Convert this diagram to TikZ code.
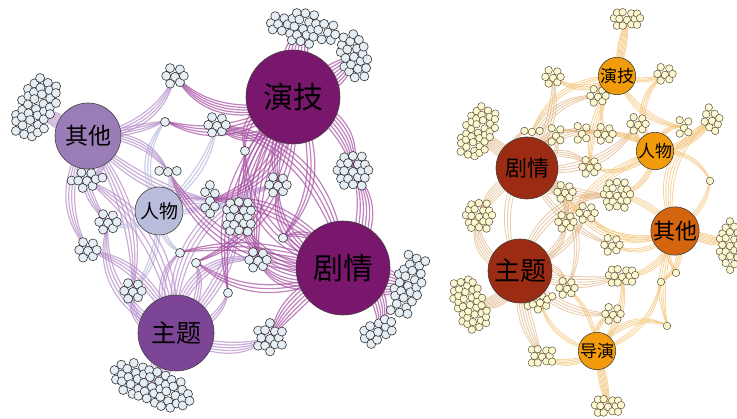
\documentclass[tikz,border=0pt]{standalone}
\usepackage{fontspec}
\newfontfamily\cjk{Noto Sans CJK SC}
\pgfdeclarelayer{edges}
\pgfsetlayers{edges,main}
\definecolor{lp1}{HTML}{79176D}
\definecolor{lp2}{HTML}{7D4595}
\definecolor{lp3}{HTML}{9A7CB7}
\definecolor{lp4}{HTML}{B9BCDA}
\definecolor{rr1}{HTML}{9C2B13}
\definecolor{rr2}{HTML}{D5640F}
\definecolor{rr3}{HTML}{F29B0B}
\definecolor{lsfill}{HTML}{E6EEF5}
\definecolor{rsfill}{HTML}{FBF8D2}
\definecolor{rsline}{HTML}{5E5236}
\definecolor{lmc}{HTML}{A54DA0}
\definecolor{lplc}{HTML}{B58CC8}
\definecolor{llavc}{HTML}{C3C6E3}
\definecolor{roc}{HTML}{F3C070}
\definecolor{rtc}{HTML}{D9A46A}
\tikzset{
 lsc/.style={circle,draw=black!80,fill=lsfill,line width=0.6pt,minimum size=9pt,inner sep=0pt},
 rsc/.style={circle,draw=rsline,fill=rsfill,line width=0.5pt,minimum size=7.5pt,inner sep=0pt},
 hub/.style={circle,draw=black!75,line width=0.6pt,inner sep=0pt},
 lm/.style={draw=lmc,line width=1.2pt,opacity=0.7},
 lpl/.style={draw=lplc,line width=1.2pt,opacity=0.7},
 llav/.style={draw=llavc,line width=1.2pt,opacity=0.85},
 ro/.style={draw=roc,line width=0.9pt,opacity=0.65},
 rt/.style={draw=rtc,line width=0.9pt,opacity=0.55},
}
% cluster: name, cx, cy, rx, ry, angle, style, spacing
\newcommand\clu[8]{%
 \coordinate (#1) at (#2,#3);
 \pgfmathtruncatemacro\nm{max(#4,#5)/#8+1}%
 \pgfmathtruncatemacro\nlo{-\nm}%
 \pgfmathtruncatemacro\nhi{\nm+2}%
 \pgfmathtruncatemacro\nlow{-\nm-2}%
 \foreach \i in {\nlow,...,\nhi}{\foreach \j in {\nlo,...,\nm}{%
   \pgfmathsetmacro\cu{(\i+0.5*(\j))*#8}%
   \pgfmathsetmacro\cv{0.866*(\j)*#8}%
   \pgfmathtruncatemacro\ok{((\cu/#4)^2+(\cv/#5)^2)<1.001 ? 1 : 0}%
   \ifnum\ok=1
     \pgfmathsetmacro\cX{#2+\cu*cos(#6)-\cv*sin(#6)+0.9*sin(137*\i+71*\j)}%
     \pgfmathsetmacro\cY{#3+\cu*sin(#6)+\cv*cos(#6)+0.9*cos(97*\i+151*\j)}%
     \node[#7] (#1-\i-\j) at (\cX,\cY) {};
   \fi
 }}%
}
% bundle: hub, cluster, style, base bend, n, step
\newcommand\bund[6]{%
 \foreach \k in {1,...,#5}{\pgfmathsetmacro\bb{#4+(\k-1)*#6}\draw[#3] (#1) to[bend left=\bb] (#2);}%
}
\begin{document}
\begin{tikzpicture}[x=1pt,y=-1pt]
\useasboundingbox (0,0) rectangle (737,419);
% ---------- left graph clusters
\clu{A1a}{303}{28}{34}{16}{10}{lsc}{8.2}
\clu{A1b}{354}{56}{13}{24}{-15}{lsc}{8.2}
\clu{A2}{36}{108}{18}{36}{25}{lsc}{8.2}
\clu{A3a}{408}{285}{15}{36}{18}{lsc}{8.2}
\clu{A3b}{378}{331}{17}{11}{-30}{lsc}{8.2}
\clu{A4}{152}{386}{42}{18}{22}{lsc}{8.2}
\clu{B1}{353}{171}{20}{16}{0}{lsc}{8.2}
\clu{B2}{270}{338}{14}{15}{0}{lsc}{8.2}
\clu{B3}{133}{291}{13}{11}{0}{lsc}{8.2}
\clu{B4}{87}{180}{17}{10}{-5}{lsc}{8.2}
\clu{B5}{239}{217}{16}{21}{0}{lsc}{8.2}
\clu{B6}{210}{200}{8}{19}{0}{lsc}{8.2}
\clu{C1}{175}{76}{9}{9}{0}{lsc}{8.2}
\clu{C2}{165}{121}{7}{8}{0}{lsc}{8.2}
\clu{C3}{217}{125}{9}{12}{0}{lsc}{8.2}
\clu{C4}{245}{150}{5}{5}{-30}{lsc}{8.2}
\clu{C5}{278}{185}{9}{9}{0}{lsc}{8.2}
\clu{C6}{168}{171}{10}{7}{0}{lsc}{8.2}
\clu{C7}{108}{222}{11}{11}{0}{lsc}{8.2}
\clu{C8}{88}{250}{10}{9}{0}{lsc}{8.2}
\clu{C9}{180}{252}{6}{3}{-30}{lsc}{8.2}
\clu{C10}{196}{262}{5}{5}{0}{lsc}{8.2}
\clu{C12}{258}{260}{9}{9}{0}{lsc}{8.2}
\clu{C13}{283}{237}{4}{8}{0}{lsc}{8.2}
\clu{C14}{228}{292}{5}{5}{0}{lsc}{8.2}
% ---------- right graph clusters
\clu{R1}{478}{132}{16}{28}{25}{rsc}{7}
\clu{R2}{470}{304}{16}{30}{-22}{rsc}{7}
\clu{R3}{479}{216}{15}{14}{0}{rsc}{7}
\clu{R4}{627}{19}{18}{7.5}{0}{rsc}{7}
\clu{R5}{730}{245}{11}{25}{0}{rsc}{7}
\clu{R6}{608}{406}{17}{8}{0}{rsc}{7}
\clu{R7}{542}{356}{13}{12}{0}{rsc}{7}
\clu{R8}{712}{120}{9}{15}{-15}{rsc}{7}
\clu{R9}{684}{127}{6}{10}{0}{rsc}{7}
\clu{R10}{665}{74}{8}{7}{0}{rsc}{7}
\clu{R11}{553}{77}{9}{8}{0}{rsc}{7}
\clu{R12}{598}{96}{11}{9}{0}{rsc}{7}
\clu{R13}{638}{124}{10}{7}{0}{rsc}{7}
\clu{R14}{605}{134}{11}{11}{0}{rsc}{7}
\clu{R15}{661}{281}{4}{5}{0}{rsc}{7}
\clu{R16}{667}{325}{5}{5}{0}{rsc}{7}
\clu{R17}{622}{276}{17}{11}{0}{rsc}{7}
\clu{R18}{613}{314}{12}{7}{0}{rsc}{7}
\clu{R21}{566}{222}{10}{10}{0}{rsc}{7}
\clu{R22}{617}{195}{14}{14}{0}{rsc}{7}
\clu{R23}{590}{167}{10}{10}{0}{rsc}{7}
\clu{R24}{565}{192}{8}{9}{0}{rsc}{7}
\clu{R26}{532}{131}{7}{4}{0}{rsc}{7}
\clu{R27}{556}{135}{6}{10}{0}{rsc}{7}
\clu{R28}{582}{133}{6}{10}{0}{rsc}{7}
\clu{R30}{587}{213}{7}{7}{0}{rsc}{7}
\clu{R31}{567}{288}{9}{9}{0}{rsc}{7}
\clu{R32}{540}{302}{16}{7}{-20}{rsc}{7}
\clu{R37}{710}{180}{4}{3}{60}{rsc}{7}
\clu{R38}{612}{245}{8}{7}{0}{rsc}{7}
\clu{R42}{676}{272}{3}{3}{0}{rsc}{7}
% ---------- hubs
\node[hub,fill=lp1,minimum size=94pt,font={\cjk\fontsize{30pt}{30pt}\selectfont}] (Lyj) at (293,97) {演技};
\node[hub,fill=lp1,minimum size=94pt,font={\cjk\fontsize{30pt}{30pt}\selectfont}] (Ljq) at (343,268) {剧情};
\node[hub,fill=lp2,minimum size=76pt,font={\cjk\fontsize{25pt}{25pt}\selectfont}] (Lzt) at (176,333) {主题};
\node[hub,fill=lp3,minimum size=66pt,font={\cjk\fontsize{23pt}{23pt}\selectfont}] (Lqt) at (88,136) {其他};
\node[hub,fill=lp4,minimum size=48pt,font={\cjk\fontsize{19pt}{19pt}\selectfont}] (Lrw) at (159,211) {人物};
\node[hub,fill=rr1,minimum size=62pt,font={\cjk\fontsize{22pt}{22pt}\selectfont}] (Rjq) at (527,168) {剧情};
\node[hub,fill=rr1,minimum size=64pt,font={\cjk\fontsize{26pt}{26pt}\selectfont}] (Rzt) at (520,271) {主题};
\node[hub,fill=rr2,minimum size=48pt,font={\cjk\fontsize{22pt}{22pt}\selectfont}] (Rqt) at (675,231) {其他};
\node[hub,fill=rr3,minimum size=34pt,font={\cjk\fontsize{17pt}{17pt}\selectfont}] (Rrw) at (655,151) {人物};
\node[hub,fill=rr3,minimum size=34pt,font={\cjk\fontsize{17pt}{17pt}\selectfont}] (Ryj) at (617,76) {演技};
\node[hub,fill=rr3,minimum size=34pt,font={\cjk\fontsize{17pt}{17pt}\selectfont}] (Rdy) at (597,351) {导演};
% ---------- edges
\begin{pgfonlayer}{edges}
\bund{Lyj}{A1a}{lm}{-10}{8}{4}
\bund{Lyj}{A1b}{lm}{-20}{8}{4}
\bund{Lqt}{A2}{lpl}{-10}{9}{3}
\bund{Ljq}{A3a}{lm}{-20}{9}{4}
\bund{Ljq}{A3b}{lm}{10}{6}{4}
\bund{Lzt}{A4}{lpl}{-15}{9}{4}
\bund{Lyj}{B1}{lm}{10}{6}{4}\bund{Ljq}{B1}{lm}{-30}{6}{4}
\bund{Lzt}{B2}{lpl}{-25}{5}{4}\bund{Ljq}{B2}{lm}{-20}{6}{4}
\bund{Lqt}{B3}{lpl}{10}{4}{4}\bund{Lzt}{B3}{lpl}{20}{4}{4}\bund{Lrw}{B3}{llav}{10}{3}{5}
\bund{Lqt}{B4}{lpl}{20}{4}{4}\bund{Lzt}{B4}{lpl}{-30}{4}{5}
\bund{Lyj}{B5}{lm}{-20}{5}{4}\bund{Ljq}{B5}{lm}{20}{5}{4}\bund{Lzt}{B5}{lpl}{-20}{4}{4}\bund{Lrw}{B5}{llav}{20}{3}{5}
\bund{Lyj}{B6}{lm}{20}{4}{4}\bund{Ljq}{B6}{lm}{-25}{4}{4}\bund{Lqt}{B6}{lpl}{-20}{4}{4}\bund{Lrw}{B6}{llav}{-20}{3}{5}
\bund{Lyj}{C1}{lm}{20}{5}{3}\bund{Lqt}{C1}{lpl}{-30}{4}{4}
\bund{Lyj}{C2}{lm}{15}{4}{4}\bund{Lqt}{C2}{lpl}{-10}{4}{4}\bund{Lrw}{C2}{llav}{20}{3}{5}
\bund{Lyj}{C3}{lm}{25}{4}{4}\bund{Ljq}{C3}{lm}{-35}{4}{4}\bund{Lrw}{C3}{llav}{-20}{3}{5}
\bund{Lyj}{C4}{lm}{-25}{3}{5}\bund{Ljq}{C4}{lm}{25}{3}{5}
\bund{Lyj}{C5}{lm}{-15}{4}{4}\bund{Ljq}{C5}{lm}{20}{4}{4}\bund{Lzt}{C5}{lpl}{30}{4}{4}
\bund{Lqt}{C6}{lpl}{15}{4}{4}\bund{Ljq}{C6}{lm}{20}{4}{4}\bund{Lrw}{C6}{llav}{-20}{3}{5}
\bund{Lqt}{C7}{lpl}{-25}{4}{4}\bund{Lzt}{C7}{lpl}{25}{4}{4}\bund{Lrw}{C7}{llav}{15}{3}{5}
\bund{Lqt}{C8}{lpl}{-30}{4}{4}\bund{Lzt}{C8}{lpl}{-25}{4}{4}
\bund{Lzt}{C9}{lpl}{20}{3}{4}\bund{Lrw}{C9}{llav}{-20}{3}{5}\bund{Ljq}{C9}{lm}{-15}{3}{4}
\bund{Lzt}{C10}{lpl}{-20}{3}{4}\bund{Ljq}{C10}{lm}{20}{3}{4}\bund{Lyj}{C10}{lm}{25}{3}{4}
\bund{Ljq}{C12}{lm}{20}{4}{4}\bund{Lzt}{C12}{lpl}{30}{4}{4}\bund{Lyj}{C12}{lm}{-20}{4}{4}
\bund{Ljq}{C13}{lm}{-20}{3}{4}\bund{Lyj}{C13}{lm}{20}{3}{4}
\bund{Lzt}{C14}{lpl}{-20}{3}{4}\bund{Lyj}{C14}{lm}{-25}{3}{4}
% right
\bund{Rjq}{R1}{rt}{-10}{9}{3}
\bund{Rzt}{R2}{rt}{10}{9}{3}
\bund{Rjq}{R3}{rt}{-20}{6}{4}\bund{Rzt}{R3}{rt}{20}{6}{4}
\bund{Ryj}{R4}{ro}{-10}{8}{3}
\bund{Rqt}{R5}{ro}{-10}{8}{3}
\bund{Rdy}{R6}{ro}{-10}{8}{3}
\bund{Rdy}{R7}{ro}{15}{5}{4}\bund{Rzt}{R7}{rt}{-20}{6}{4}
\bund{Rrw}{R8}{ro}{-25}{5}{4}\bund{Rqt}{R8}{ro}{25}{5}{4}
\bund{Rrw}{R9}{ro}{20}{4}{4}\bund{Ryj}{R9}{ro}{-30}{4}{4}
\bund{Ryj}{R10}{ro}{-20}{4}{4}\bund{Rrw}{R10}{ro}{30}{4}{4}
\bund{Rjq}{R11}{rt}{-20}{4}{4}\bund{Ryj}{R11}{ro}{20}{4}{4}
\bund{Ryj}{R12}{ro}{-20}{4}{4}\bund{Rjq}{R12}{rt}{25}{4}{4}
\bund{Rrw}{R13}{ro}{20}{4}{4}\bund{Rjq}{R13}{rt}{-30}{4}{4}
\bund{Rjq}{R14}{rt}{20}{4}{4}\bund{Rrw}{R14}{ro}{-20}{4}{4}\bund{Ryj}{R14}{ro}{-25}{3}{4}
\bund{Rqt}{R15}{ro}{20}{4}{4}\bund{Rdy}{R15}{ro}{-30}{3}{4}
\bund{Rqt}{R16}{ro}{-20}{4}{4}\bund{Rdy}{R16}{ro}{25}{4}{4}
\bund{Rzt}{R17}{rt}{-20}{5}{4}\bund{Rqt}{R17}{ro}{20}{4}{4}\bund{Rdy}{R17}{ro}{-25}{4}{4}
\bund{Rzt}{R18}{rt}{-25}{4}{4}\bund{Rdy}{R18}{ro}{20}{4}{4}
\bund{Rjq}{R21}{rt}{20}{4}{4}\bund{Rzt}{R21}{rt}{-25}{4}{4}\bund{Rrw}{R21}{ro}{-20}{4}{4}
\bund{Rjq}{R22}{rt}{-20}{4}{4}\bund{Rzt}{R22}{rt}{25}{4}{4}\bund{Rqt}{R22}{ro}{-20}{4}{4}\bund{Rrw}{R22}{ro}{20}{4}{4}
\bund{Rjq}{R23}{rt}{20}{4}{4}\bund{Ryj}{R23}{ro}{-20}{4}{4}\bund{Rrw}{R23}{ro}{20}{3}{4}
\bund{Rjq}{R24}{rt}{-20}{4}{4}\bund{Rqt}{R24}{ro}{30}{4}{4}
\bund{Rjq}{R26}{rt}{25}{3}{4}\bund{Ryj}{R26}{ro}{-30}{3}{4}
\bund{Rjq}{R27}{rt}{-25}{3}{4}\bund{Rzt}{R27}{rt}{30}{3}{4}
\bund{Rjq}{R28}{rt}{25}{3}{4}\bund{Rrw}{R28}{ro}{-20}{3}{4}
\bund{Rzt}{R30}{rt}{-20}{3}{4}\bund{Rqt}{R30}{ro}{25}{3}{4}
\bund{Rzt}{R31}{rt}{20}{4}{4}\bund{Rdy}{R31}{ro}{-20}{3}{4}\bund{Rjq}{R31}{rt}{30}{3}{4}
\bund{Rzt}{R32}{rt}{-30}{3}{4}\bund{Rdy}{R32}{ro}{20}{3}{4}
\bund{Rrw}{R37}{ro}{20}{3}{4}\bund{Rqt}{R37}{ro}{-20}{3}{4}
\bund{Rqt}{R38}{ro}{20}{3}{4}\bund{Rjq}{R38}{rt}{-20}{3}{4}
\bund{Rqt}{R42}{ro}{-20}{3}{4}
\end{pgfonlayer}
\end{tikzpicture}
\end{document}
